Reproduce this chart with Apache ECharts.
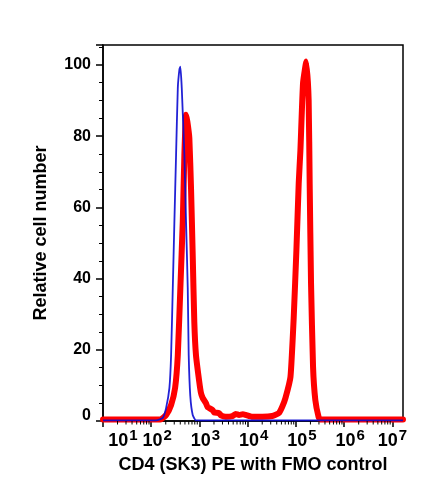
<!DOCTYPE html>
<html>
<head>
<meta charset="utf-8">
<script src="https://cdn.jsdelivr.net/npm/echarts@6/dist/echarts.min.js"></script>
<style>
    html, body { margin: 0; padding: 0; background: #fff; }
    #et1 { width: 424px; height: 493px; }
</style>
</head>
<body>
<div id="et1"></div>
<script>
// x values are log10 of the PE intensity
var fmoX = [1.00, 2.10, 2.165, 2.241, 2.309, 2.377, 2.412, 2.447, 2.480, 2.515, 2.551, 2.585, 2.604,
    2.633, 2.687, 2.722, 2.757, 2.777, 2.810, 2.860, 2.928, 7.22];
var fmoY = [0.2, 0.2, 0.4, 0.9, 3.7, 9.3, 18.5, 37.4, 55.9, 74.7, 93.5, 98.8, 99.5,
    93.5, 74.7, 55.9, 37.4, 18.5, 7.0, 1.7, 0.2, 0.2];

var cd4X = [1.00, 2.10, 2.206, 2.309, 2.412, 2.495, 2.551, 2.604, 2.654, 2.687, 2.722, 2.750,
    2.790, 2.825, 2.860, 2.893, 2.928, 2.996, 3.031, 3.066, 3.134, 3.169, 3.272, 3.305, 3.408,
    3.443, 3.546, 3.685, 3.750, 3.821, 3.900, 3.959, 4.097, 4.303, 4.509, 4.645, 4.716, 4.784,
    4.887, 4.955, 5.010, 5.058, 5.093, 5.148, 5.216, 5.264, 5.285, 5.313, 5.355, 5.402, 5.470,
    5.505, 7.22];
var cd4Y = [0.4, 0.4, 0.5, 1.7, 4.5, 9.3, 18.5, 37.4, 56, 74.7, 86, 84,
    79.5, 65.4, 46.6, 27.8, 18.5, 11, 7.9, 6.5, 5, 3.9, 3.1, 2.4, 2.2,
    1.6, 1.2, 1.4, 2.0, 1.7, 1.9, 1.7, 1.2, 1.2, 1.4, 2.2, 4, 6.5,
    12.4, 29.3, 48, 66.8, 76, 95, 101, 90, 66.8, 38.8, 15.2, 5.9, 1.1,
    0.4, 0.4];

var decades = [1, 2, 3, 4, 5, 6, 7];
var minorDigits = [2, 3, 4, 5, 6, 7, 8, 9];

~function () {
    var myChart = echarts.init(document.getElementById('et1'));

    var minorTicks = [];
    decades.slice(0, -1).forEach(function (d) {
        minorDigits.forEach(function (k) {
            minorTicks.push([d + Math.log10(k), 0]);
        });
    });

    function pairs(xs, ys) {
        return xs.map(function (x, i) { return [x, ys[i]]; });
    }

    var font = 'Liberation Sans, Arial, sans-serif';

    var option = {
        backgroundColor: '#fff',
        animation: false,
        grid: {
            left: 103,
            right: 21,
            top: 45,
            bottom: 72,
            show: true,
            borderColor: '#000',
            borderWidth: 1.5,
            backgroundColor: 'transparent'
        },
        xAxis: {
            type: 'value',
            min: 1,
            max: 7.22,
            interval: 1,
            name: 'CD4 (SK3) PE with FMO control',
            nameLocation: 'middle',
            nameGap: 35,
            nameTextStyle: {
                fontSize: 18,
                fontWeight: 'bold',
                fontFamily: font,
                color: '#000'
            },
            axisLine: {lineStyle: {color: '#000', width: 1.5}},
            axisTick: {length: 6, lineStyle: {color: '#000', width: 1.5}},
            splitLine: {show: false},
            axisLabel: {
                margin: 7,
                color: '#000',
                fontFamily: font,
                showMaxLabel: false,
                formatter: function (v) {
                    if (Math.abs(v - Math.round(v)) > 1e-6) return '';
                    var n = Math.round(v);
                    var tag = n === 1 ? 'f' : (n === 7 ? 'l' : 'b');
                    return '{' + tag + '|10}{s|' + n + '}';
                },
                rich: {
                    b: {fontSize: 18, fontWeight: 'bold', fontFamily: font, color: '#000', padding: [0, 0, 0, 12]},
                    f: {fontSize: 18, fontWeight: 'bold', fontFamily: font, color: '#000', padding: [0, 0, 0, 40]},
                    l: {fontSize: 18, fontWeight: 'bold', fontFamily: font, color: '#000', padding: [0, 0, 0, 0]},
                    s: {fontSize: 15, fontWeight: 'bold', fontFamily: font, color: '#000', padding: [0, 0, 12, 1]}
                }
            }
        },
        yAxis: {
            type: 'value',
            min: 0,
            max: 105.6,
            interval: 20,
            name: 'Relative cell number',
            nameLocation: 'middle',
            nameGap: 53,
            nameTextStyle: {
                fontSize: 18,
                fontWeight: 'bold',
                fontFamily: font,
                color: '#000'
            },
            axisLine: {lineStyle: {color: '#000', width: 1.5}},
            axisTick: {length: 7, lineStyle: {color: '#000', width: 1.5}},
            minorTick: {show: true, splitNumber: 4, length: 4, lineStyle: {color: '#000', width: 1}},
            splitLine: {show: false},
            minorSplitLine: {show: false},
            axisLabel: {
                margin: 12,
                fontSize: 16,
                fontWeight: 'bold',
                fontFamily: font,
                color: '#000',
                showMaxLabel: false,
                formatter: function (v) {
                    if (v === 0) return '{z|0}';
                    return v % 20 === 0 ? String(v) : '';
                },
                rich: {
                    z: {fontSize: 16, fontWeight: 'bold', fontFamily: font, color: '#000', padding: [0, 0, 10, 0]}
                }
            }
        },
        series: [
            {
                name: 'CD4 (SK3) PE',
                type: 'line',
                data: pairs(cd4X, cd4Y),
                symbol: 'none',
                smooth: 0.15,
                lineStyle: {color: '#ff0000', width: 6, join: 'round', cap: 'round'},
                z: 2
            },
            {
                name: 'FMO control',
                type: 'line',
                data: pairs(fmoX, fmoY),
                symbol: 'none',
                smooth: 0.15,
                lineStyle: {color: '#0a0ad0', width: 1.8, opacity: 0.9},
                z: 3
            },
            {
                name: 'minor ticks',
                type: 'custom',
                data: minorTicks,
                clip: false,
                silent: true,
                z: 4,
                renderItem: function (params, api) {
                    var p = api.coord([api.value(0), 0]);
                    return {
                        type: 'line',
                        shape: {x1: p[0], y1: p[1], x2: p[0], y2: p[1] + 3.5},
                        style: {stroke: '#000', lineWidth: 1}
                    };
                }
            }
        ]
    };
    myChart.setOption(option);
}();
</script>
</body>
</html>
